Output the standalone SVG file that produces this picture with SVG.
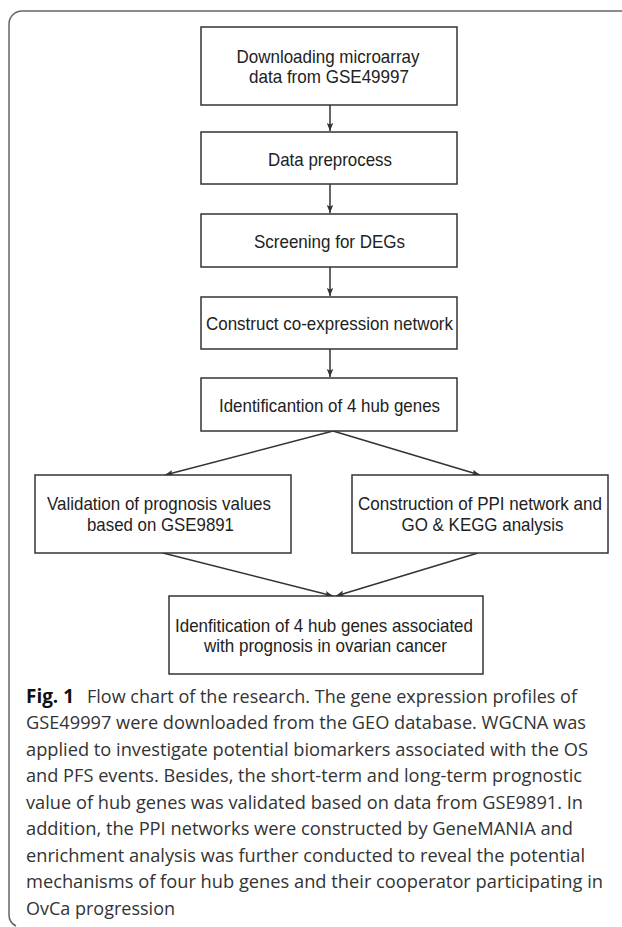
<svg xmlns="http://www.w3.org/2000/svg" width="622" height="927" viewBox="0 0 622 927">
<style>
.box{fill:#fff;stroke:#333;stroke-width:1.5}
.lbl{font-family:"Liberation Sans",Arial,sans-serif;font-size:18.5px;fill:#222;text-anchor:middle}
.cap{font-family:"Open Sans","Noto Sans",sans-serif;font-size:19px;fill:#333}
.conn{stroke:#333;stroke-width:1.5;fill:none;marker-end:url(#ah)}
</style>
<defs>
<marker id="ah" viewBox="0 0 10 10" refX="10" refY="5" markerWidth="8" markerHeight="8" markerUnits="userSpaceOnUse" orient="auto">
<path d="M0,1 L10,5 L0,9 L2,5 Z" fill="#333"/>
</marker>
</defs>
<path id="frame" d="M622,11 H22 A13,13 0 0 0 9,24 V914 A13,13 0 0 0 16,926" fill="none" stroke="#666" stroke-width="1.5"/>
<g id="connectors">
<line class="conn" x1="330" y1="105" x2="330" y2="131"/>
<line class="conn" x1="330" y1="184" x2="330" y2="213"/>
<line class="conn" x1="330" y1="267" x2="330" y2="296"/>
<line class="conn" x1="330" y1="349" x2="330" y2="377"/>
<line class="conn" x1="333" y1="431" x2="165" y2="475"/>
<line class="conn" x1="333" y1="431" x2="480" y2="475"/>
<line class="conn" x1="163" y1="553" x2="333" y2="596"/>
<line class="conn" x1="478" y1="553" x2="336" y2="596"/>
</g>
<g id="n1">
<rect class="box" x="201" y="27" width="256" height="78"/>
<text class="lbl" x="328" y="62.5" textLength="183" lengthAdjust="spacingAndGlyphs">Downloading microarray</text>
<text class="lbl" x="329" y="82.5" textLength="160" lengthAdjust="spacingAndGlyphs">data from GSE49997</text>
</g>
<g id="n2">
<rect class="box" x="201" y="132" width="256" height="52"/>
<text class="lbl" x="330" y="165.5" textLength="124" lengthAdjust="spacingAndGlyphs">Data preprocess</text>
</g>
<g id="n3">
<rect class="box" x="201" y="214" width="256" height="53"/>
<text class="lbl" x="329.5" y="248" textLength="151" lengthAdjust="spacingAndGlyphs">Screening for DEGs</text>
</g>
<g id="n4">
<rect class="box" x="201" y="297" width="256" height="52"/>
<text class="lbl" x="329.5" y="329.5" textLength="247" lengthAdjust="spacingAndGlyphs">Construct co-expression network</text>
</g>
<g id="n5">
<rect class="box" x="201" y="378" width="256" height="53"/>
<text class="lbl" x="329.5" y="411.5" textLength="221" lengthAdjust="spacingAndGlyphs">Identificantion of 4 hub genes</text>
</g>
<g id="n6">
<rect class="box" x="35" y="475" width="256" height="78"/>
<text class="lbl" x="159" y="510" textLength="224" lengthAdjust="spacingAndGlyphs">Validation of prognosis values</text>
<text class="lbl" x="160.5" y="530.5" textLength="147" lengthAdjust="spacingAndGlyphs">based on GSE9891</text>
</g>
<g id="n7">
<rect class="box" x="352" y="475" width="256" height="78"/>
<text class="lbl" x="480" y="510" textLength="244" lengthAdjust="spacingAndGlyphs">Construction of PPI network and</text>
<text class="lbl" x="482.5" y="530.5" textLength="162" lengthAdjust="spacingAndGlyphs">GO &amp; KEGG analysis</text>
</g>
<g id="n8">
<rect class="box" x="169" y="596" width="314" height="78"/>
<text class="lbl" x="324" y="631.5" textLength="298" lengthAdjust="spacingAndGlyphs">Idenfitication of 4 hub genes associated</text>
<text class="lbl" x="325.5" y="651.5" textLength="243" lengthAdjust="spacingAndGlyphs">with prognosis in ovarian cancer</text>
</g>
<g id="caption">
<text class="cap" x="26" y="702.5" textLength="48" lengthAdjust="spacingAndGlyphs" style="font-weight:bold;fill:#111">Fig. 1</text>
<text class="cap" x="87" y="702.5" textLength="490" lengthAdjust="spacingAndGlyphs">Flow chart of the research. The gene expression profiles of</text>
<text class="cap" x="26" y="729" textLength="560" lengthAdjust="spacingAndGlyphs">GSE49997 were downloaded from the GEO database. WGCNA was</text>
<text class="cap" x="26" y="755.5" textLength="562" lengthAdjust="spacingAndGlyphs">applied to investigate potential biomarkers associated with the OS</text>
<text class="cap" x="26" y="782" textLength="556" lengthAdjust="spacingAndGlyphs">and PFS events. Besides, the short-term and long-term prognostic</text>
<text class="cap" x="26" y="808.5" textLength="557" lengthAdjust="spacingAndGlyphs">value of hub genes was validated based on data from GSE9891. In</text>
<text class="cap" x="26" y="835" textLength="547" lengthAdjust="spacingAndGlyphs">addition, the PPI networks were constructed by GeneMANIA and</text>
<text class="cap" x="26" y="861.5" textLength="559" lengthAdjust="spacingAndGlyphs">enrichment analysis was further conducted to reveal the potential</text>
<text class="cap" x="26" y="888" textLength="577" lengthAdjust="spacingAndGlyphs">mechanisms of four hub genes and their cooperator participating in</text>
<text class="cap" x="26" y="914.5" textLength="149" lengthAdjust="spacingAndGlyphs">OvCa progression</text>
</g>
</svg>
